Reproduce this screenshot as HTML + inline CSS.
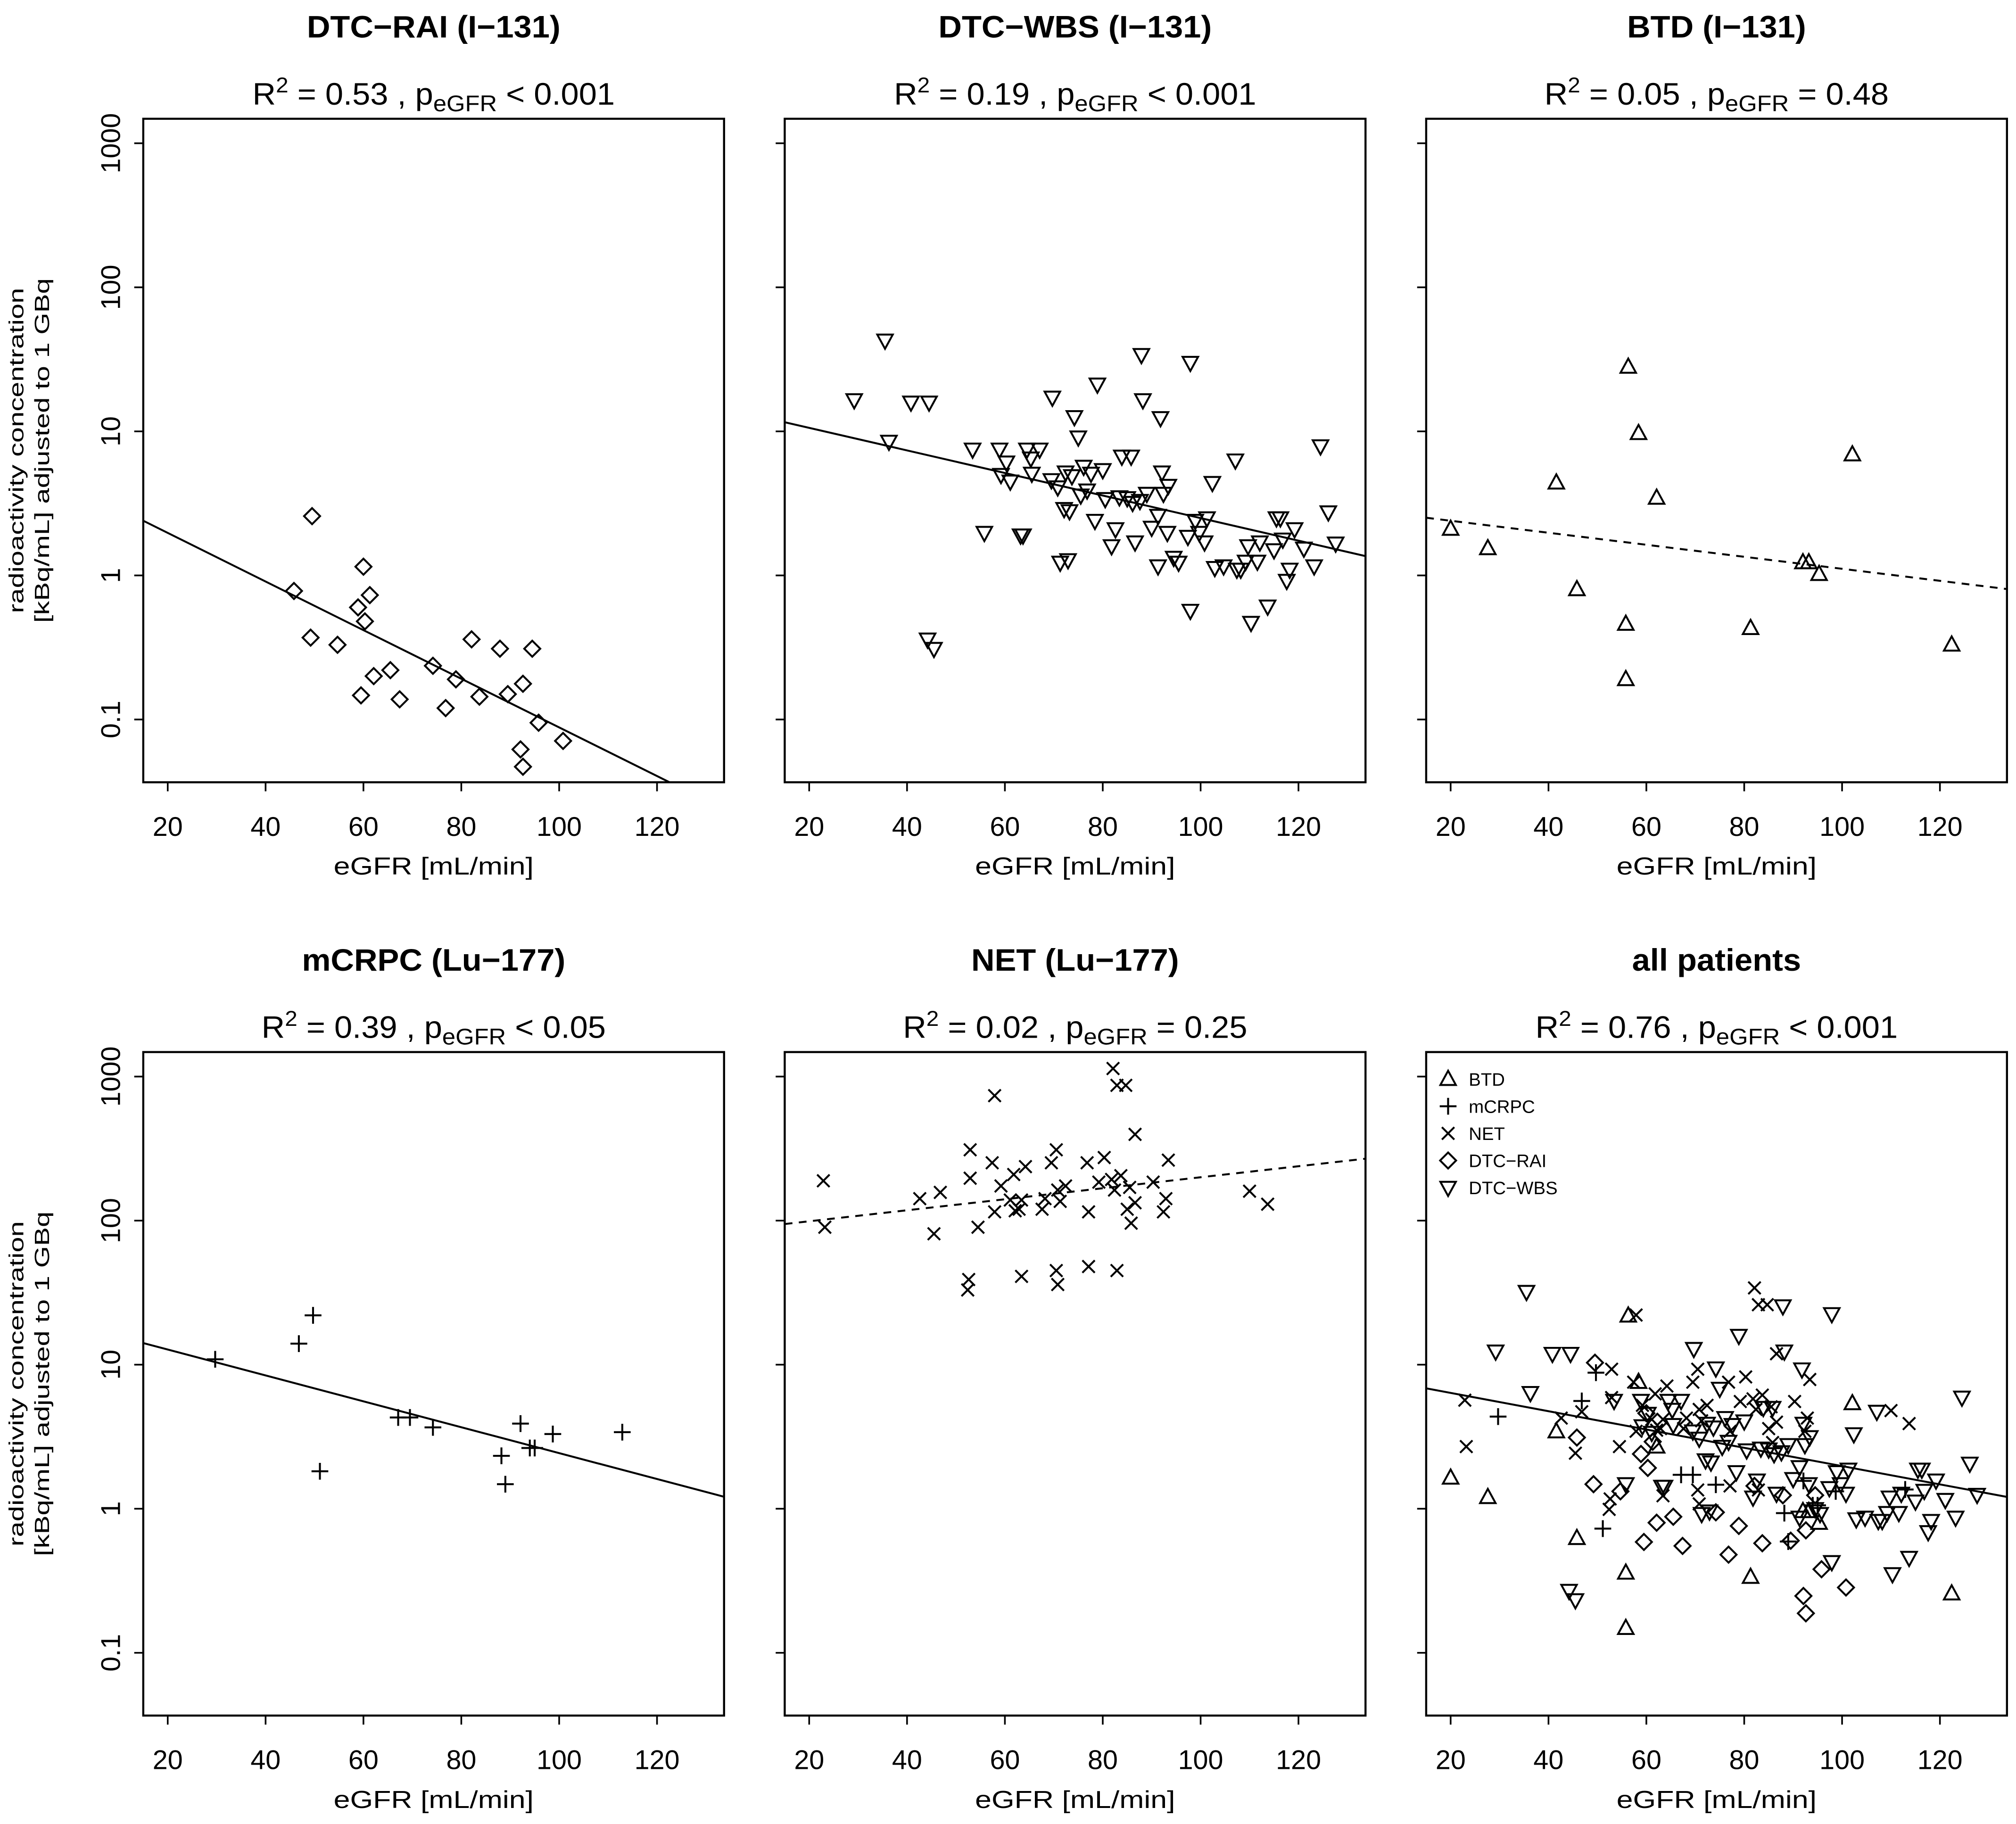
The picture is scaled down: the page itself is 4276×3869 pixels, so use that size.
<!DOCTYPE html>
<html><head><meta charset="utf-8"><style>
html,body{margin:0;padding:0;background:#fff;}
svg{display:block;}
text{font-family:"Liberation Sans",sans-serif;fill:#000;}
</style></head>
<body>
<svg id="fig" width="4276" height="3869" viewBox="0 0 1562 1413" preserveAspectRatio="none" xmlns="http://www.w3.org/2000/svg"></svg>
<script>
// ---- data ----
const raiX=[45.8,49.5,49.2,54.7,58.9,60,60.3,61.3,59.5,62.1,65.5,67.4,74.2,76.8,78.9,82.1,83.7,87.9,89.5,92.6,94.5,92.1,92.6,95.8,100.8];
const raiY=[0.78,2.58,0.37,0.33,0.6,1.15,0.48,0.73,0.147,0.2,0.22,0.138,0.236,0.12,0.19,0.36,0.144,0.31,0.15,0.177,0.31,0.062,0.047,0.095,0.071];
const wbsX=[29.2,35.5,36.3,40.8,44.5,44.2,45.5,53.4,55.8,58.9,59.2,60.3,61.1,63.2,63.7,64.5,65.3,65.5,67.1,69.5,69.7,70.8,71.3,72.1,72.4,72.9,73.2,73.7,74.2,75.0,75.5,76.1,76.8,77.6,78.4,78.9,80.0,80.5,81.8,82.6,83.4,83.9,85.0,85.8,86.1,86.6,87.6,87.9,88.2,89.0,90.0,91.3,91.3,91.8,92.1,92.4,93.2,93.4,94.5,95.5,97.4,97.9,97.9,98.9,99.7,100.8,101.3,102.4,102.9,104.7,107.1,107.4,108.2,109.2,109.7,110.3,111.6,112.1,113.7,115.0,115.5,116.3,116.8,117.6,118.2,119.2,121.1,123.2,124.5,126.1,127.6];
const wbsY=[16.5,42.8,8.5,15.9,15.9,0.36,0.31,7.5,1.98,7.5,5.0,6.1,4.5,1.9,1.9,7.5,6.5,5.1,7.5,4.6,17.2,4.1,1.23,2.9,5.2,1.28,2.8,4.9,12.6,9.1,3.6,5.7,3.9,5.1,2.4,21.2,5.4,3.4,1.6,2.1,3.5,6.7,3.45,6.7,3.2,1.7,3.3,34,16.5,3.7,2.15,1.16,2.6,12.4,5.2,3.7,1.98,4.2,1.33,1.23,1.86,30,0.57,2.4,1.98,1.7,2.5,4.4,1.13,1.16,6.3,1.1,1.1,1.25,1.6,0.47,1.25,1.7,0.61,1.5,2.5,2.5,1.78,0.92,1.1,2.1,1.54,1.16,7.9,2.75,1.67];
const btdX=[20,27.6,41.6,45.8,56.3,58.4,62.1,55.8,55.8,81.3,92.0,93.2,95.3,102.1,122.4];
const btdY=[2.1,1.54,4.4,0.80,28,9.7,3.45,0.46,0.19,0.43,1.23,1.23,1.02,6.9,0.33];
const crpcX=[29.7,46.8,49.7,51.1,67.1,69.5,74.2,88.2,89,92.1,94,95,98.7,112.9];
const crpcY=[10.9,14,22,1.82,4.3,4.3,3.67,2.33,1.48,3.9,2.64,2.64,3.3,3.4];
const netX=[22.9,23.2,42.6,45.5,46.8,52.9,52.9,52.6,52.4,54.5,57.4,57.9,57.9,59.2,61.1,61.8,62.1,62.9,63.4,63.4,64.2,67.6,68.2,69.5,70.5,70.8,70.5,70.8,71.3,72.4,76.8,77.1,77.1,79.2,80.3,81.8,82.4,82.1,82.9,82.9,83.7,84.7,85.0,85.5,85.8,86.6,86.6,90.3,92.4,92.9,93.4,110.0,113.7];
const netY=[189,90,142,81,157,310,197,39,33,90,252,115,737,174,139,209,117,120,139,41,237,120,142,252,310,163,45,36,136,174,252,115,48,185,274,193,163,1137,869,45,205,869,120,170,96,397,133,185,115,142,263,160,130];
// all-patients normalisation per group
const allScaleBTD=0.78, allScaleCRPC=0.4, allScaleNET=0.03, allScaleRAI=4, allScaleWBS=0.75;
// regression lines (log10 y = a + b*x)
const fitA=[0.633,1.181,0.463,1.285,1.919,0.931];
const fitB=[-0.01688,-0.00783,-0.00417,-0.00899,0.00382,-0.00635];
const fitDash=[false,false,true,false,true,false];
const titles=["DTC\u2212RAI (I\u2212131)","DTC\u2212WBS (I\u2212131)","BTD (I\u2212131)","mCRPC (Lu\u2212177)","NET (Lu\u2212177)","all patients"];
const r2=["0.53","0.19","0.05","0.39","0.02","0.76"];
const pTxt=["< 0.001","< 0.001","= 0.48","< 0.05","= 0.25","< 0.001"];
const xTicks=[20,40,60,80,100,120];
const yTicks=[0.1,1,10,100,1000];
const yTickLabels=["0.1","1","10","100","1000"];
const legendLabels=["BTD","mCRPC","NET","DTC\u2212RAI","DTC\u2212WBS"];
const legendShapes=["tri","plus","cross","dia","inv"];

const NS="http://www.w3.org/2000/svg";
const svg=document.getElementById('fig');
function mk(tag,attrs,parent){const e=document.createElementNS(NS,tag);for(const k in attrs)e.setAttribute(k,attrs[k]);(parent||svg).appendChild(e);return e;}
const XMIN=15.0,XMAX=133.7,YTOP=3.17,DEC=111.6,PW=450,PH=514;
function box(i){const c=i%3,r=Math.floor(i/3);return {L:111+497*c,R:111+497*c+PW,T:92+723*r,B:92+723*r+PH};}
function sx(b,x){return b.L+(x-XMIN)/(XMAX-XMIN)*PW;}
function sy(b,v){return b.T+(YTOP-Math.log10(v))*DEC;}
function marker(g,shape,cx,cy){
  let d;const s=6.2;
  if(shape==="dia")d=`M${cx},${cy-s}L${cx+s},${cy}L${cx},${cy+s}L${cx-s},${cy}Z`;
  else if(shape==="tri")d=`M${cx},${cy-6.5}L${cx+6},${cy+4.5}L${cx-6},${cy+4.5}Z`;
  else if(shape==="inv")d=`M${cx},${cy+6.5}L${cx+6},${cy-4.5}L${cx-6},${cy-4.5}Z`;
  else if(shape==="plus")d=`M${cx-6.5},${cy}H${cx+6.5}M${cx},${cy-6.5}V${cy+6.5}`;
  else d=`M${cx-4.8},${cy-4.8}L${cx+4.8},${cy+4.8}M${cx-4.8},${cy+4.8}L${cx+4.8},${cy-4.8}`;
  const p=mk('path',{d:d,fill:'none',stroke:'#000','stroke-width':1.5},g);
  
  
  return p;
}
function panelSeries(i){
  const s=[];
  if(i===0)s.push(["dia",raiX,raiY,1]);
  if(i===1)s.push(["inv",wbsX,wbsY,1]);
  if(i===2)s.push(["tri",btdX,btdY,1]);
  if(i===3)s.push(["plus",crpcX,crpcY,1]);
  if(i===4)s.push(["cross",netX,netY,1]);
  if(i===5){s.push(["tri",btdX,btdY,allScaleBTD],["plus",crpcX,crpcY,allScaleCRPC],["cross",netX,netY,allScaleNET],["dia",raiX,raiY,allScaleRAI],["inv",wbsX,wbsY,allScaleWBS]);}
  return s;
}
for(let i=0;i<6;i++){
  const b=box(i),c=i%3;
  const g=mk('g',{});
  
  
  const cx=(b.L+b.R)/2;
  const t=mk('text',{x:0,y:0,'text-anchor':'middle','font-size':22,'font-weight':'bold',transform:`translate(${cx},${b.T-63}) scale(1.14,1.1)`},g);
  t.textContent=titles[i];
  
  
  const st=mk('text',{x:0,y:0,'text-anchor':'middle','font-size':23,transform:`translate(${cx},${b.T-11}) scale(1.09,1.04)`},g);
  
  
  st.innerHTML=`R<tspan dy="-9" font-size="16">2</tspan><tspan dy="9"> = ${r2[i]} , p</tspan><tspan dy="5" font-size="17">eGFR</tspan><tspan dy="-5"> ${pTxt[i].replace('<','&lt;')}</tspan>`;
  const fr=mk('rect',{x:b.L,y:b.T,width:PW,height:PH,fill:'none',stroke:'#000','stroke-width':1.6},g);
  
  
  // x axis
  xTicks.forEach(v=>{const x=sx(b,v);
    const tl=mk('line',{x1:x,x2:x,y1:b.B,y2:b.B+7,stroke:'#000','stroke-width':1.3},g);
    
    
    const tx=mk('text',{x:x,y:b.B+41.5,'text-anchor':'middle','font-size':21},g);tx.textContent=v;
    
    });
  const xt=mk('text',{x:cx,y:b.B+71.5,'text-anchor':'middle','font-size':19,textLength:155,lengthAdjust:'spacingAndGlyphs'},g);xt.textContent='eGFR [mL/min]';
  
  
  // y axis
  yTicks.forEach((v,k)=>{const y=sy(b,v);
    const tl=mk('line',{x1:b.L-7,x2:b.L,y1:y,y2:y,stroke:'#000','stroke-width':1.3},g);
    
    
    if(c===0){const ty=mk('text',{x:0,y:0,'text-anchor':'middle','font-size':21,transform:`translate(${b.L-18},${y}) rotate(-90)`},g);ty.textContent=yTickLabels[k];
      
      }
  });
  if(c===0){const my=(b.T+b.B)/2;
    const y1=mk('text',{x:0,y:0,'text-anchor':'middle','font-size':16,textLength:252,lengthAdjust:'spacingAndGlyphs',transform:`translate(18,${my}) rotate(-90)`},g);y1.textContent='radioactivity concentration';
    
    
    const y2=mk('text',{x:0,y:0,'text-anchor':'middle','font-size':16,textLength:267,lengthAdjust:'spacingAndGlyphs',transform:`translate(38,${my}) rotate(-90)`},g);y2.textContent='[kBq/mL] adjusted to 1 GBq';
    
    }
  // regression line clipped
  const cp=mk('clipPath',{id:'cp'+i},g);mk('rect',{x:b.L,y:b.T,width:PW,height:PH},cp);
  const fx0=XMIN,fx1=XMAX;
  const ln=mk('line',{x1:sx(b,fx0),y1:sy(b,Math.pow(10,fitA[i]+fitB[i]*fx0)),x2:sx(b,fx1),y2:sy(b,Math.pow(10,fitA[i]+fitB[i]*fx1)),stroke:'#000','stroke-width':1.5,'clip-path':`url(#cp${i})`},g);
  if(fitDash[i])ln.setAttribute('stroke-dasharray','6,5');
  
  
  // points
  panelSeries(i).forEach(([shape,xs,ys,f])=>{xs.forEach((x,k)=>marker(g,shape,sx(b,x),sy(b,ys[k]*f)));});
  if(i===5){
    legendLabels.forEach((lab,k)=>{const y=b.T+21+k*21;
      const lg=mk('g',{},g);
      
      
      marker(lg,legendShapes[k],b.L+17,y);
      const tx=mk('text',{x:b.L+33,y:y+5,'font-size':14},lg);tx.textContent=lab;});
  }
}
</script>
</body></html>
